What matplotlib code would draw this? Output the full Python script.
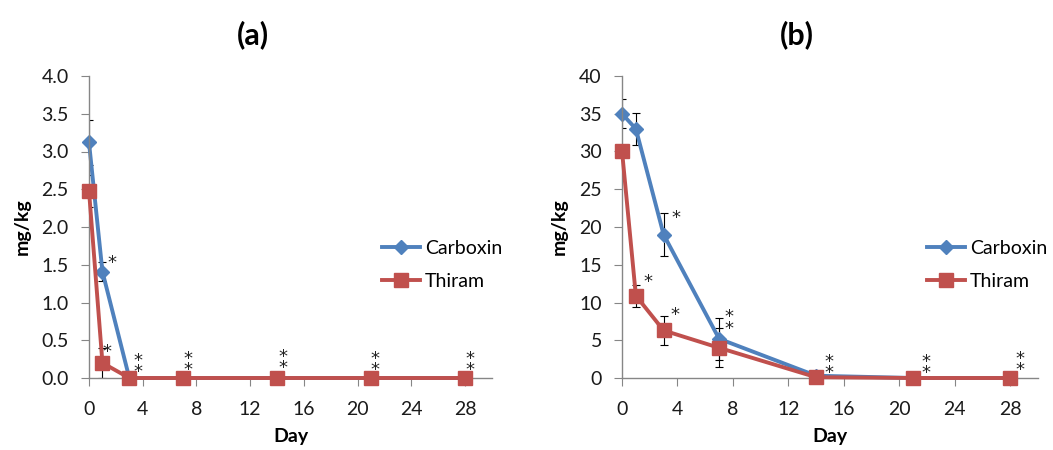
import matplotlib
matplotlib.use("Agg")
import matplotlib.pyplot as plt
from matplotlib.textpath import TextPath
from matplotlib.font_manager import FontProperties

plt.rcParams['font.family'] = ['Lato', 'DejaVu Sans']

# Sampling days
days = [0, 1, 3, 7, 14, 21, 28]

# (a) residues, mg/kg
carboxin_a = [3.12, 1.41, 0.0, 0.0, 0.0, 0.0, 0.0]
carboxin_a_err = [0.30, 0.12, 0.0, 0.0, 0.0, 0.0, 0.0]
thiram_a = [2.48, 0.20, 0.0, 0.0, 0.0, 0.0, 0.0]
thiram_a_err = [0.21, 0.20, 0.0, 0.0, 0.0, 0.0, 0.0]

# (b) residues, mg/kg
carboxin_b = [35.0, 33.0, 19.0, 5.2, 0.3, 0.0, 0.0]
carboxin_b_err = [1.9, 2.1, 2.8, 2.8, 0.0, 0.0, 0.0]
thiram_b = [30.1, 10.9, 6.3, 4.0, 0.1, 0.0, 0.0]
thiram_b_err = [0.6, 1.45, 1.9, 2.6, 0.0, 0.0, 0.0]

x_ticks = [0, 4, 8, 12, 16, 20, 24, 28]
y_ticks_a = [0.0, 0.5, 1.0, 1.5, 2.0, 2.5, 3.0, 3.5, 4.0]
y_ticks_b = [0, 5, 10, 15, 20, 25, 30, 35, 40]

# Significance marks: (day, value of the point they belong to, mark text)
sig_a = [(1, 1.41, '*'), (1, 0.20, '*'), (3, 0.0, '*\n*'), (7, 0.0, '*\n*'),
         (14, 0.0, '*\n*'), (21, 0.0, '*\n*'), (28, 0.0, '*\n*')]
sig_b = [(3, 19.0, '*'), (1, 10.9, '*'), (3, 6.3, '*'), (7, 5.2, '*\n*'),
         (14, 0.0, '*\n*'), (21, 0.0, '*\n*'), (28, 0.0, '*\n*')]
# where the top star of each mark sits relative to its point, pixels (right, up)
sig_a_offset = [(10, 13), (5, 15), (9, 22), (5, 24), (6, 26), (4, 24), (5, 24)]
sig_b_offset = [(12, 21), (12, 18), (11, 20), (10, 26), (13, 21), (13, 21),
                (10, 24)]

BLUE = '#4F81BD'
RED = '#C0504D'
GRAY = '#868686'
FS = 14
STAR_FS = 13
STAR_PITCH = 11.5  # px between stacked stars
PX = 0.72  # points per pixel at 100 dpi

fig = plt.figure(figsize=(10.53, 4.5), dpi=100)
W, H = 1053.0, 450.0
ax_a = fig.add_axes([89 / W, 1 - 378 / H, 403 / W, 302 / H])
ax_b = fig.add_axes([622 / W, 1 - 378 / H, 416 / W, 302 / H])

# glyph metrics used to place the stars by their ink centre
star_fp = FontProperties(family='DejaVu Sans', size=STAR_FS)
ext = TextPath((0, 0), '*', prop=star_fp).get_extents()
star_cy = (ext.y0 + ext.y1) / 2.0
lp = TextPath((0, 0), 'lp', prop=star_fp).get_extents()
lp_asc, lp_desc = lp.y1, -lp.y0
star_ls = (STAR_PITCH * PX - lp_desc) / lp_asc


def draw_panel(ax, carb, carb_err, thir, thir_err, yticks, ylabels, ymax,
               sig, sig_off, title, title_x, legend_x):
    ax.errorbar(days, carb, yerr=carb_err, fmt='none', ecolor='black',
                elinewidth=0.8, capsize=2.6, capthick=0.8, zorder=1.5)
    ax.errorbar(days, thir, yerr=thir_err, fmt='none', ecolor='black',
                elinewidth=0.8, capsize=2.6, capthick=0.8, zorder=1.6)
    ax.plot(days, carb, color=BLUE, lw=2.8, marker='D', ms=7,
            mfc=BLUE, mec=BLUE, label='Carboxin', zorder=2,
            solid_joinstyle='round', clip_on=False)
    ax.plot(days, thir, color=RED, lw=2.8, marker='s', ms=10,
            mfc=RED, mec=RED, label='Thiram', zorder=3,
            solid_joinstyle='round', clip_on=False)

    for (d, v, s), (dx, dy) in zip(sig, sig_off):
        top = dy * PX - star_cy + lp_asc
        ax.annotate(s, xy=(d, v), xytext=(dx * PX, top),
                    textcoords='offset points', ha='center', va='top',
                    multialignment='center', linespacing=star_ls,
                    fontsize=STAR_FS, family='DejaVu Sans', color='#222222',
                    zorder=4, annotation_clip=False)

    ax.set_xlim(0, 30)
    ax.set_ylim(0, ymax)
    ax.set_xticks(x_ticks)
    ax.set_xticklabels([str(t) for t in x_ticks])
    ax.set_yticks(yticks)
    ax.set_yticklabels(ylabels)
    for s in ('top', 'right'):
        ax.spines[s].set_visible(False)
    for s in ('left', 'bottom'):
        ax.spines[s].set_color(GRAY)
        ax.spines[s].set_linewidth(1.0)
    ax.tick_params(axis='both', direction='out', length=5.5, width=0.8,
                   color=GRAY, labelsize=FS, labelcolor='#1a1a1a', pad=9)
    ax.tick_params(axis='x', pad=11)
    ax.set_xlabel('Day', fontsize=FS, fontweight='bold', labelpad=7)
    ax.set_ylabel('mg/kg', fontsize=FS, fontweight='bold', labelpad=8)

    fig.text(title_x / W, 1 - 35 / H, title, fontsize=22, fontweight='bold',
             ha='center', va='center')
    ax.legend(loc='center left', bbox_to_anchor=(legend_x / W, 1 - 265 / H),
              bbox_transform=fig.transFigure, frameon=False, fontsize=FS,
              handlelength=1.95, handletextpad=0.25, labelspacing=0.85,
              borderpad=0, borderaxespad=0)


draw_panel(ax_a, carboxin_a, carboxin_a_err, thiram_a, thiram_a_err,
           y_ticks_a, ['%.1f' % t for t in y_ticks_a], 4.0,
           sig_a, sig_a_offset, '(a)', 253, 382)
draw_panel(ax_b, carboxin_b, carboxin_b_err, thiram_b, thiram_b_err,
           y_ticks_b, [str(t) for t in y_ticks_b], 40,
           sig_b, sig_b_offset, '(b)', 797, 927)

fig.savefig('out.png', dpi=100)
